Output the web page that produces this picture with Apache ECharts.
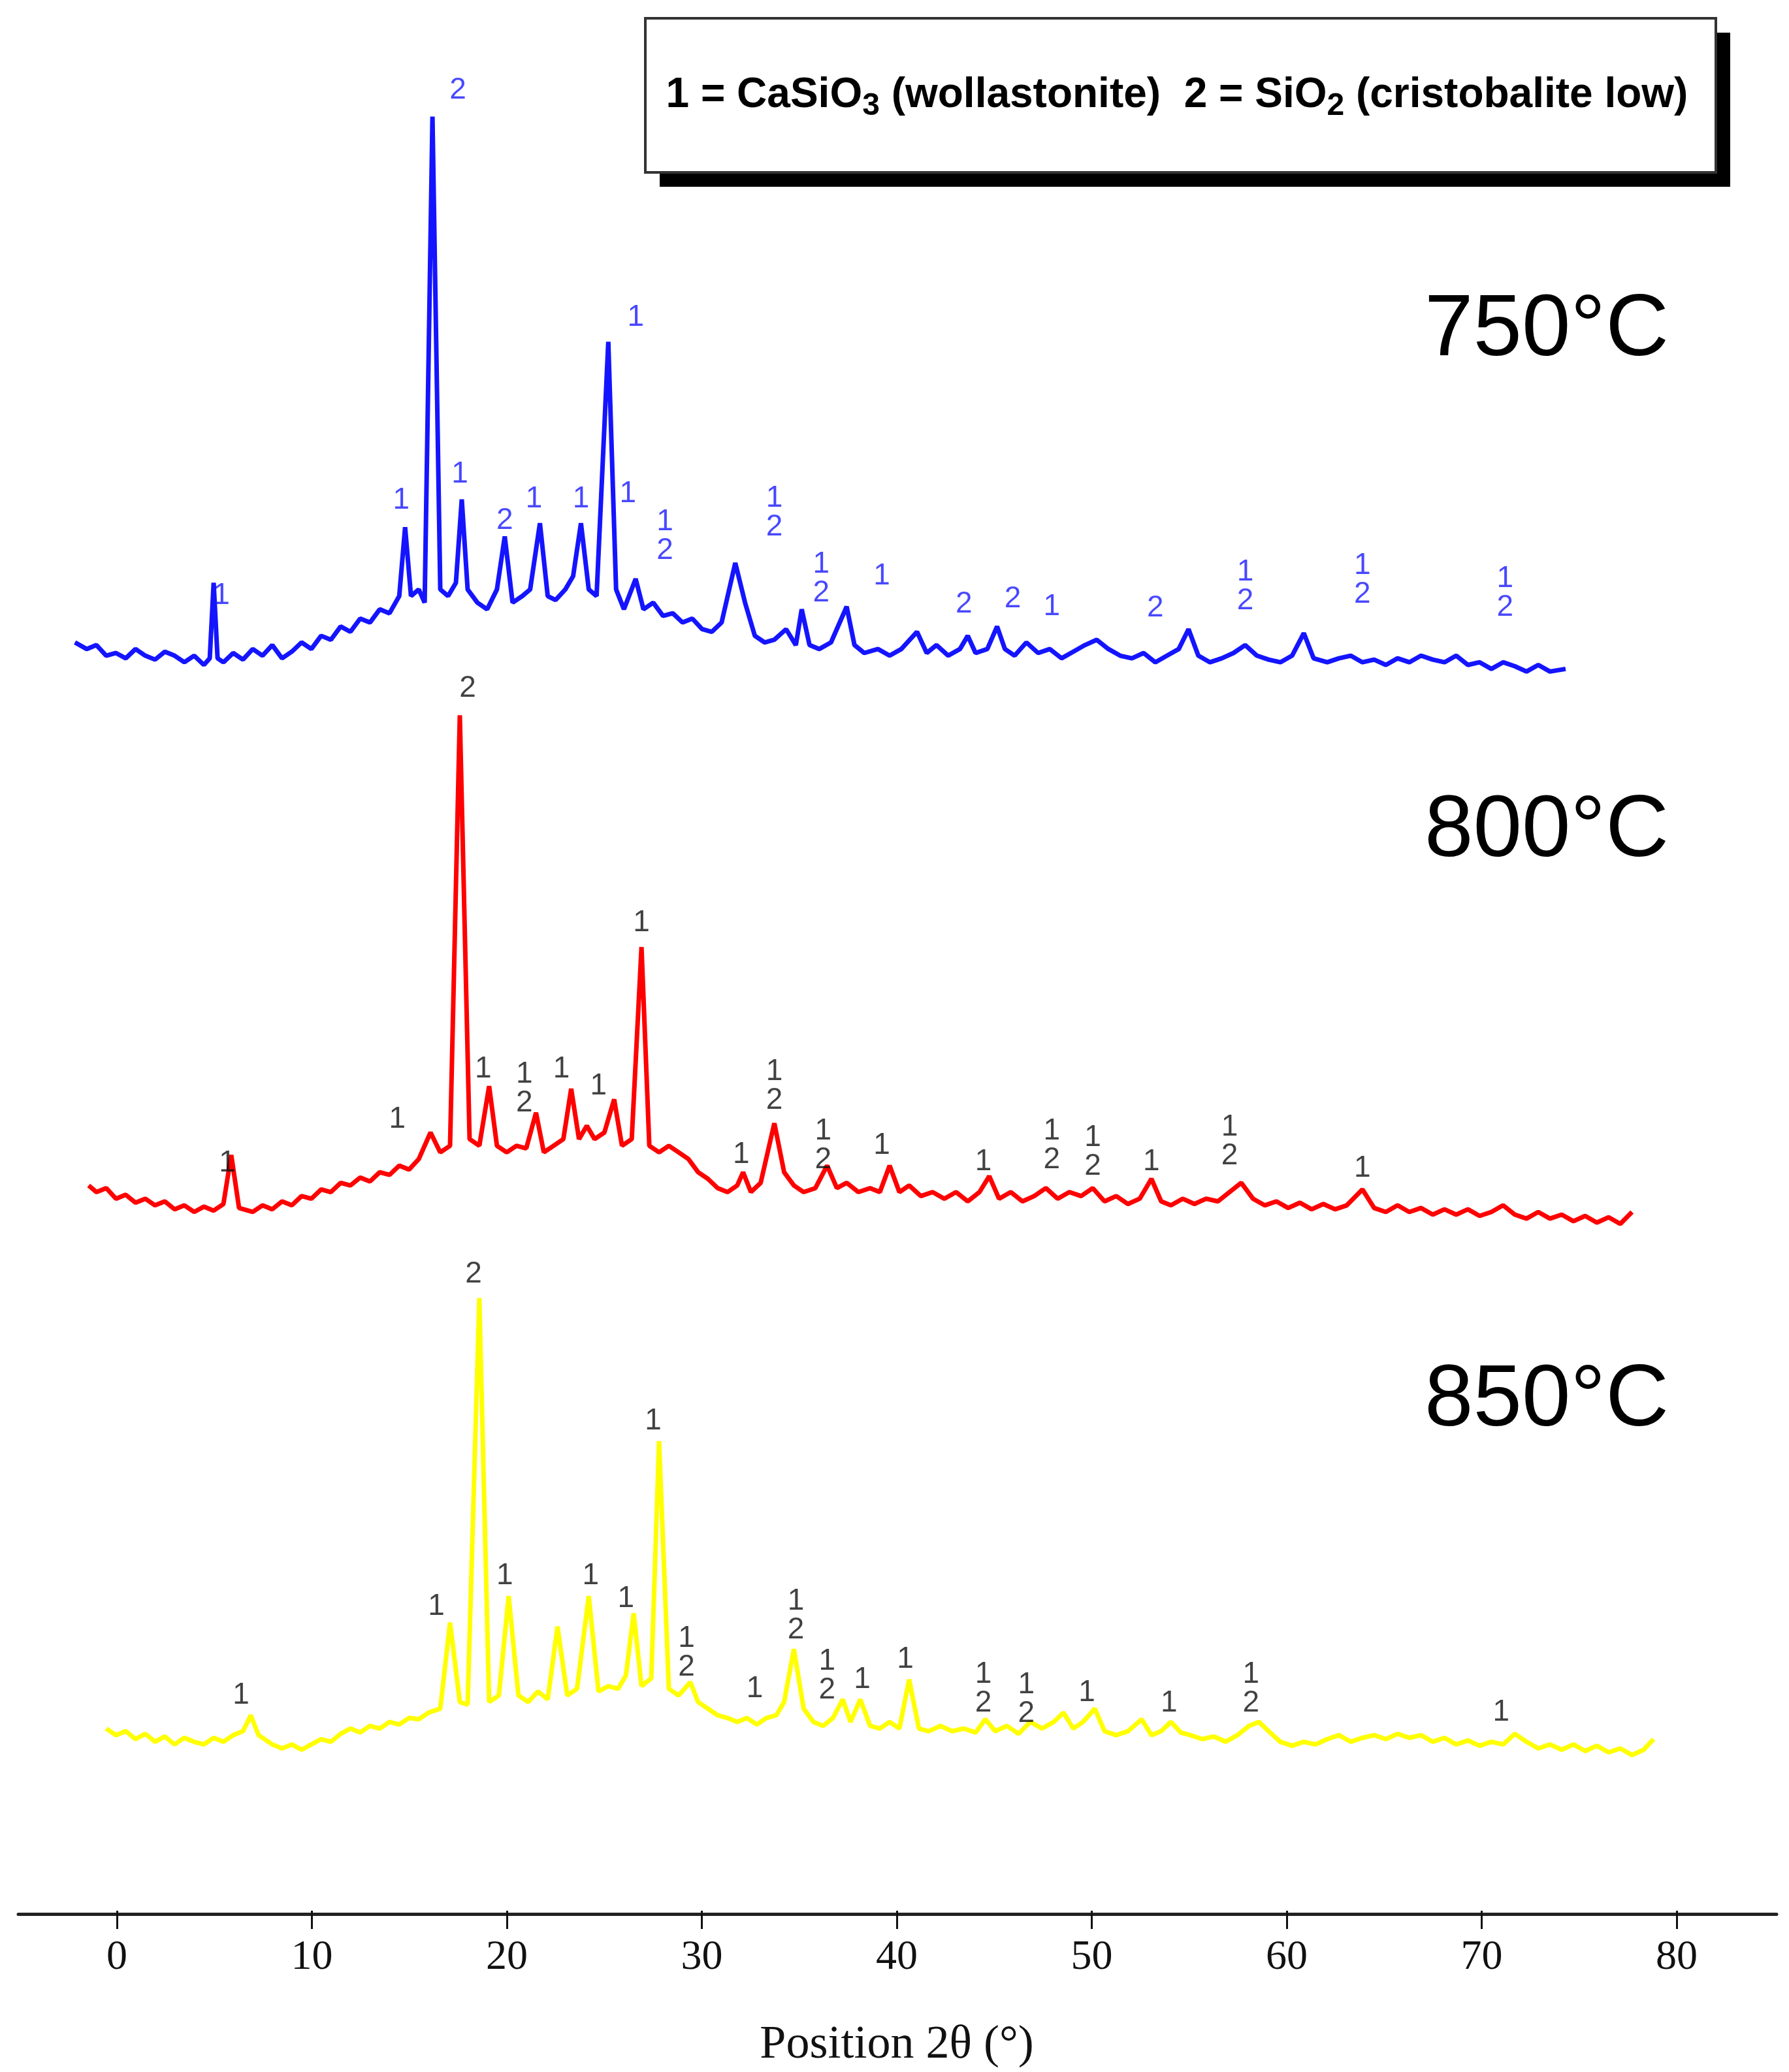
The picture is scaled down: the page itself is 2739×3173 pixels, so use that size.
<!DOCTYPE html>
<html><head><meta charset="utf-8">
<script src="https://cdn.jsdelivr.net/npm/echarts@6/dist/echarts.min.js"></script>
<style>html,body{margin:0;padding:0;background:#fff}#c{width:2739px;height:3173px}</style>
</head><body><div id="c"></div>
<script>
const xTicks = [0,10,20,30,40,50,60,70,80];
const blue750 = [[-2.1,960],[-1.5,955],[-1,958],[-0.5,950],[0,952],[0.5,948],[1,955],[1.5,950],[2,947],[2.5,953],[3,950],[3.5,945],[4,950],[4.5,943],[4.8,948],[5.0,1005],[5.2,948],[5.5,945],[6,952],[6.5,947],[7,955],[7.5,950],[8,958],[8.5,948],[9,953],[9.5,960],[10,955],[10.5,965],[11,962],[11.5,972],[12,968],[12.5,978],[13,975],[13.5,985],[14,982],[14.5,995],[14.8,1047],[15.1,995],[15.5,1000],[15.8,990],[16.2,1357],[16.6,1000],[17,995],[17.4,1005],[17.7,1068],[18,1000],[18.5,990],[19,985],[19.5,1000],[19.9,1040],[20.3,990],[20.8,995],[21.2,1000],[21.7,1050],[22.1,995],[22.5,992],[23,1000],[23.4,1010],[23.8,1050],[24.2,1000],[24.6,995],[25.2,1187],[25.6,1000],[26,985],[26.6,1008],[27,985],[27.5,990],[28,980],[28.5,982],[29,975],[29.5,978],[30,970],[30.5,968],[31,975],[31.7,1020],[32.2,990],[32.7,965],[33.2,960],[33.7,962],[34.3,970],[34.8,958],[35.1,985],[35.5,958],[36,955],[36.6,960],[37.4,987],[37.8,958],[38.3,952],[39,955],[39.6,950],[40.2,955],[41,968],[41.5,952],[42,958],[42.6,950],[43.2,955],[43.6,965],[44,952],[44.6,955],[45.1,972],[45.5,955],[46,950],[46.6,960],[47.2,952],[47.8,955],[48.4,948],[49,953],[49.6,958],[50.2,962],[50.8,955],[51.4,950],[52,948],[52.6,952],[53.2,945],[53.8,950],[54.4,955],[54.9,970],[55.4,950],[56,945],[56.6,948],[57.2,952],[57.8,958],[58.4,950],[59,947],[59.6,945],[60.2,950],[60.8,967],[61.3,948],[62,945],[62.6,948],[63.2,950],[63.8,945],[64.4,947],[65,943],[65.6,948],[66.2,945],[66.8,950],[67.4,947],[68,945],[68.6,950],[69.2,943],[69.8,945],[70.4,940],[71,945],[71.6,942],[72.2,938],[72.8,943],[73.4,938],[74.2,940]];
const red800 = [[-1.4,550],[-1,545],[-0.5,548],[0,540],[0.5,543],[1,537],[1.5,540],[2,535],[2.5,538],[3,532],[3.5,535],[4,530],[4.5,534],[5,531],[5.5,536],[5.9,573],[6.3,533],[7,530],[7.5,535],[8,532],[8.5,538],[9,535],[9.5,542],[10,540],[10.5,547],[11,545],[11.5,552],[12,550],[12.5,556],[13,553],[13.5,560],[14,558],[14.5,565],[15,562],[15.5,570],[16.1,590],[16.6,575],[17.1,580],[17.6,905],[18.1,585],[18.6,580],[19.1,625],[19.5,580],[20,575],[20.5,580],[21,578],[21.5,605],[21.9,575],[22.4,580],[22.9,585],[23.3,623],[23.7,585],[24.1,595],[24.5,585],[25,590],[25.5,615],[25.9,580],[26.4,585],[26.9,730],[27.3,580],[27.8,575],[28.3,580],[28.8,575],[29.3,570],[29.8,560],[30.3,555],[30.8,548],[31.3,545],[31.8,550],[32.1,560],[32.5,545],[33,552],[33.7,597],[34.2,560],[34.7,550],[35.2,545],[35.8,548],[36.4,565],[36.9,548],[37.4,552],[38,545],[38.6,548],[39.1,545],[39.6,565],[40.1,545],[40.6,550],[41.2,542],[41.8,545],[42.4,540],[43,545],[43.6,538],[44.2,545],[44.7,557],[45.2,540],[45.8,545],[46.4,538],[47,542],[47.6,548],[48.2,540],[48.8,545],[49.4,542],[50,548],[50.6,538],[51.2,542],[51.8,536],[52.4,540],[53,555],[53.5,538],[54,535],[54.6,540],[55.2,536],[55.8,540],[56.4,538],[57,545],[57.6,552],[58.2,540],[58.8,535],[59.4,538],[60,533],[60.6,537],[61.2,532],[61.8,536],[62.4,532],[63,535],[63.8,547],[64.4,533],[65,530],[65.6,535],[66.2,530],[66.8,533],[67.4,528],[68,532],[68.6,528],[69.2,532],[69.8,527],[70.4,530],[71,535],[71.6,528],[72.2,525],[72.8,530],[73.4,525],[74,528],[74.6,523],[75.2,527],[75.8,522],[76.4,526],[77,521],[77.6,530]];
const yellow850 = [[-0.5,140],[0,135],[0.5,138],[1,132],[1.5,136],[2,130],[2.5,134],[3,128],[3.5,133],[4,130],[4.5,128],[5,133],[5.5,130],[6,135],[6.5,138],[6.9,150],[7.3,135],[8,128],[8.5,125],[9,128],[9.5,124],[10,128],[10.5,132],[11,130],[11.5,136],[12,140],[12.5,137],[13,142],[13.5,140],[14,145],[14.5,143],[15,148],[15.5,147],[16,152],[16.6,155],[17.1,220],[17.6,160],[18,158],[18.6,465],[19.1,160],[19.6,165],[20.1,240],[20.6,165],[21.1,160],[21.6,168],[22.1,162],[22.6,217],[23.1,165],[23.6,170],[24.2,240],[24.7,168],[25.2,172],[25.7,170],[26.1,180],[26.5,227],[26.9,172],[27.4,178],[27.8,357],[28.3,170],[28.8,165],[29.4,175],[29.8,160],[30.3,155],[30.8,150],[31.3,148],[31.8,145],[32.3,148],[32.8,143],[33.3,148],[33.8,150],[34.2,160],[34.7,200],[35.2,155],[35.7,145],[36.2,142],[36.7,148],[37.2,162],[37.6,145],[38.1,162],[38.6,142],[39.1,140],[39.6,145],[40.1,140],[40.6,177],[41.1,140],[41.6,138],[42.2,142],[42.8,138],[43.4,140],[44,137],[44.5,147],[45,138],[45.6,142],[46.2,136],[46.8,145],[47.4,140],[48,145],[48.5,152],[49,140],[49.5,145],[50.1,155],[50.6,138],[51.2,135],[51.8,138],[52.5,147],[53,135],[53.5,138],[54,145],[54.5,137],[55,135],[55.6,132],[56.2,134],[56.8,130],[57.4,135],[58,142],[58.5,145],[59,138],[59.6,130],[60.2,127],[60.8,130],[61.4,128],[62,132],[62.6,135],[63.2,130],[63.8,133],[64.4,135],[65,132],[65.6,136],[66.2,133],[66.8,135],[67.4,130],[68,133],[68.6,128],[69.2,131],[69.8,127],[70.4,130],[71,128],[71.6,136],[72.2,130],[72.8,125],[73.4,128],[74,124],[74.6,128],[75.2,123],[75.8,127],[76.4,122],[77,125],[77.6,120],[78.2,124],[78.7,132]];
const blueLabels = [[5.4,995,'1'],[17.5,1377,'2'],[26.6,1205,'1'],[14.6,1067,'1'],[17.6,1087,'1'],[19.9,1052,'2'],[21.4,1068,'1'],[23.8,1068,'1'],[26.2,1072,'1'],[28.1,1040,'1\n2'],[33.7,1058,'1\n2'],[36.1,1008,'1\n2'],[39.2,1010,'1'],[43.4,989,'2'],[45.9,993,'2'],[47.9,987,'1'],[53.2,986,'2'],[57.8,1002,'1\n2'],[63.8,1007,'1\n2'],[71.1,997,'1\n2']];
const redLabels = [[18.0,925,'2'],[26.9,748,'1'],[14.4,600,'1'],[18.8,638,'1'],[20.9,623,'1\n2'],[22.8,638,'1'],[24.7,625,'1'],[33.7,625,'1\n2'],[36.2,580,'1\n2'],[39.2,580,'1'],[44.4,568,'1'],[47.9,580,'1\n2'],[50.0,575,'1\n2'],[53.0,568,'1'],[57.0,583,'1\n2'],[63.8,563,'1'],[5.7,567,'1'],[32.0,573,'1']];
const yellowLabels = [[18.3,483,'2'],[27.5,372,'1'],[16.4,232,'1'],[19.9,255,'1'],[24.3,255,'1'],[26.1,238,'1'],[29.2,197,'1\n2'],[34.8,225,'1\n2'],[36.4,180,'1\n2'],[38.2,177,'1'],[40.4,192,'1'],[44.4,170,'1\n2'],[46.6,162,'1\n2'],[49.7,167,'1'],[53.9,159,'1'],[58.1,170,'1\n2'],[70.9,152,'1'],[6.4,165,'1'],[32.7,170,'1']];
const temps = ['750°C','800°C','850°C'];

function lineS(d,c){return {type:'line',xAxisIndex:0,yAxisIndex:0,data:d,showSymbol:false,symbol:'none',lineStyle:{color:c,width:7},z:3,animation:false};}
function labS(d,c){return {type:'scatter',xAxisIndex:0,yAxisIndex:0,symbolSize:0,data:d.map(a=>({value:[a[0],a[1]],name:a[2]})),
  label:{show:true,position:'inside',formatter:p=>p.name,color:c,fontFamily:'Liberation Sans',fontSize:46,lineHeight:44,align:'center',verticalAlign:'middle'},z:4,animation:false,silent:true};}

const chart = echarts.init(document.getElementById('c'));
chart.setOption({
  backgroundColor:'#fff',
  grid:[{left:28,right:19,top:0,bottom:242},{left:179,right:172,top:0,bottom:242}],
  xAxis:[{gridIndex:0,type:'value',min:-5,max:85,axisLine:{show:true,lineStyle:{color:'#222',width:5}},axisTick:{show:false},axisLabel:{show:false},splitLine:{show:false}},
         {gridIndex:1,type:'value',min:0,max:80,interval:10,axisLine:{show:false},axisTick:{show:true,length:28,lineStyle:{color:'#111',width:3}},
          axisLabel:{show:true,color:'#111',fontFamily:'Liberation Serif',fontSize:64,margin:40,formatter:v=>xTicks.includes(v)?String(v):''},splitLine:{show:false},
          name:'Position 2θ (°)',nameLocation:'middle',nameGap:170,nameTextStyle:{color:'#111',fontFamily:'Liberation Serif',fontSize:72}}],
  yAxis:[{gridIndex:0,type:'value',min:0,max:1445,show:false},{gridIndex:1,type:'value',min:0,max:1445,show:false}],
  graphic:[
    {type:'rect',shape:{x:1010,y:50,width:1639,height:236},style:{fill:'#000'},z:1},
    {type:'rect',shape:{x:988,y:28,width:1639,height:236},style:{fill:'#fff',stroke:'#333',lineWidth:4},z:2},
    {type:'text',x:1802,y:146,z:3,style:{text:'{b|1 = CaSiO}{s|3}{b| (wollastonite)  2 = SiO}{s|2}{b| (cristobalite low)}',align:'center',verticalAlign:'middle',
      rich:{b:{fontFamily:'Liberation Sans',fontWeight:'bold',fontSize:64,fill:'#000'},s:{fontFamily:'Liberation Sans',fontWeight:'bold',fontSize:48,fill:'#000',padding:[34,0,0,0]}}}},
    {type:'text',x:2368,y:507,z:3,style:{text:temps[0],align:'center',verticalAlign:'middle',fontFamily:'Liberation Sans',fontSize:134,fill:'#000'}},
    {type:'text',x:2368,y:1274,z:3,style:{text:temps[1],align:'center',verticalAlign:'middle',fontFamily:'Liberation Sans',fontSize:134,fill:'#000'}},
    {type:'text',x:2368,y:2146,z:3,style:{text:temps[2],align:'center',verticalAlign:'middle',fontFamily:'Liberation Sans',fontSize:134,fill:'#000'}}
  ],
  series:[lineS(blue750,'#1414ff'),lineS(red800,'#ff0000'),lineS(yellow850,'#ffff00'),
    labS(blueLabels,'#1a1aff'),labS(redLabels,'#111'),labS(yellowLabels,'#111')]
});
</script></body></html>
